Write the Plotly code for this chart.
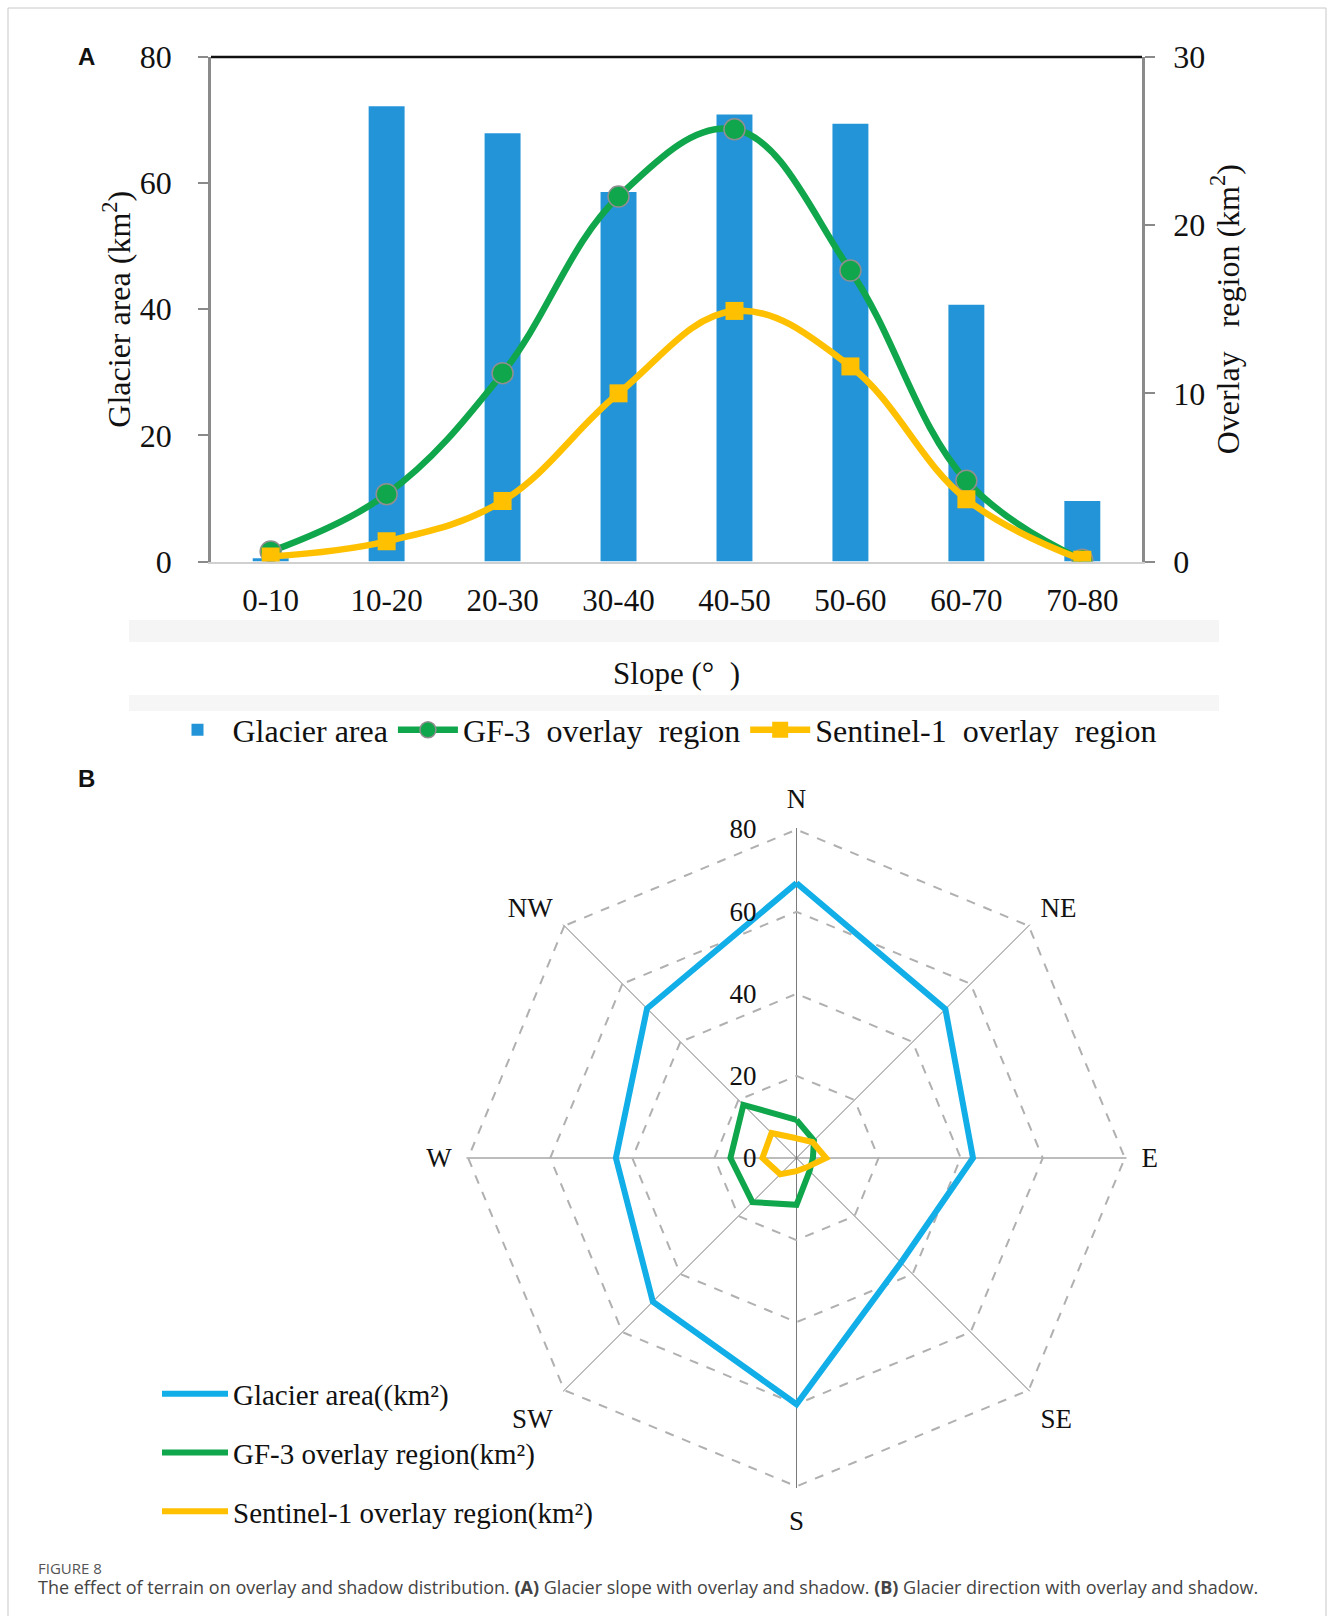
import plotly.graph_objects as go

# ---------------- data ----------------
slope_bins = ["0-10", "10-20", "20-30", "30-40", "40-50", "50-60", "60-70", "70-80"]
glacier_area_slope = [0.5, 72.2, 67.9, 58.6, 70.9, 69.4, 40.7, 9.6]
gf3_slope = [0.6, 4.0, 11.2, 21.7, 25.7, 17.3, 4.8, 0.1]
s1_slope = [0.3, 1.2, 3.6, 10.0, 14.9, 11.6, 3.7, 0.1]

directions = ["N", "NE", "E", "SE", "S", "SW", "W", "NW"]
glacier_area_dir = [67.0, 51.3, 43.0, 36.0, 60.0, 49.5, 44.0, 51.5]
gf3_dir = [9.3, 6.0, 4.0, 4.5, 11.4, 15.2, 16.1, 18.3]
s1_dir = [4.8, 5.5, 7.2, 3.3, 3.2, 5.6, 8.3, 8.6]

W, H = 1328, 1616
SERIF = "Liberation Serif, Times New Roman, serif"
BLUE_BAR = "#2494D8"
GREEN = "#10A64B"
YELLOW = "#FFC000"
RADAR_BLUE = "#12AEE8"


def px_x(v):
    return v / W


def px_y(v):
    return 1 - v / H


fig = go.Figure()

# ---------------- panel A ----------------
fig.add_trace(go.Bar(
    x=slope_bins, y=glacier_area_slope, name="Glacier area",
    marker=dict(color=BLUE_BAR, line=dict(width=0)), width=0.31,
    xaxis="x", yaxis="y", legend="legend"))
fig.add_trace(go.Scatter(
    x=slope_bins, y=gf3_slope, name="GF-3\u00a0\u00a0overlay\u00a0\u00a0region",
    mode="lines+markers", line=dict(color=GREEN, width=6.5, shape="spline", smoothing=1.1),
    marker=dict(symbol="circle", size=21, color=GREEN, line=dict(color="#8f8f8f", width=1.5)),
    xaxis="x", yaxis="y2", legend="legend"))
fig.add_trace(go.Scatter(
    x=slope_bins, y=s1_slope, name="Sentinel-1\u00a0\u00a0overlay\u00a0\u00a0region",
    mode="lines+markers", line=dict(color=YELLOW, width=6.5, shape="spline", smoothing=1.1),
    marker=dict(symbol="square", size=18, color=YELLOW, line=dict(color=YELLOW, width=0)),
    xaxis="x", yaxis="y2", legend="legend"))

# ---------------- panel B ----------------
theta_closed = directions + directions[:1]
for vals, name, color in [
    (glacier_area_dir, "Glacier area((km\u00b2)", RADAR_BLUE),
    (gf3_dir, "GF-3 overlay region(km\u00b2)", GREEN),
    (s1_dir, "Sentinel-1 overlay region(km\u00b2)", YELLOW),
]:
    fig.add_trace(go.Scatterpolar(
        r=vals + vals[:1], theta=theta_closed, name=name, mode="lines",
        line=dict(color=color, width=6), legend="legend2", legendgroup=name,
        subplot="polar"))

# geometry (pixels in the 1328x1616 page)
A_left, A_right, A_top, A_bottom = 211, 1142, 57, 561.5
cx, cy, R = 796.5, 1158, 330

fig.update_layout(
    width=W, height=H, autosize=False,
    margin=dict(l=0, r=0, t=0, b=0),
    paper_bgcolor="white", plot_bgcolor="white",
    font=dict(family=SERIF, color="#111111", size=28),
    showlegend=True,
    xaxis=dict(
        domain=[px_x(A_left), px_x(A_right)], anchor="y",
        type="category", categoryorder="array", categoryarray=slope_bins,
        showline=True, linecolor="#d0d0d0", linewidth=2, mirror=False,
        showgrid=False, ticks="", ticklabelstandoff=10,
        tickfont=dict(family=SERIF, size=31, color="#111"),
        title=dict(text="Slope (°\u00a0\u00a0)", font=dict(family=SERIF, size=31, color="#111"), standoff=46),
        automargin=False, fixedrange=True),
    yaxis=dict(
        domain=[px_y(A_bottom), px_y(A_top)], anchor="x",
        range=[0, 80], tickvals=[0, 20, 40, 60, 80],
        showline=True, linecolor="#8a8a8a", linewidth=2.5,
        ticks="outside", ticklen=10, tickcolor="#8a8a8a", tickwidth=2,
        ticklabelstandoff=20, showgrid=False, zeroline=False,
        tickfont=dict(family=SERIF, size=32, color="#111"),
        title=dict(text="Glacier area (km<sup>2</sup>)", font=dict(family=SERIF, size=32, color="#111"), standoff=0),
        automargin=False),
    yaxis2=dict(
        overlaying="y", side="right", anchor="x",
        range=[0, 30], tickvals=[0, 10, 20, 30],
        showline=True, linecolor="#8a8a8a", linewidth=2.5,
        ticks="outside", ticklen=10, tickcolor="#8a8a8a", tickwidth=2,
        ticklabelstandoff=12, showgrid=False, zeroline=False,
        tickfont=dict(family=SERIF, size=32, color="#111"),
        title=dict(text="Overlay\u00a0\u00a0\u00a0region (km<sup>2</sup>)", font=dict(family=SERIF, size=32, color="#111"), standoff=12),
        automargin=False),
    legend=dict(
        orientation="h", x=px_x(662), xanchor="center", y=px_y(730), yanchor="middle",
        font=dict(family=SERIF, size=32, color="#111"), bgcolor="rgba(0,0,0,0)",
        itemwidth=60, traceorder="normal"),
    legend2=dict(
        orientation="v", x=px_x(157), xanchor="left", y=px_y(1453), yanchor="middle",
        font=dict(family=SERIF, size=29, color="#111"), bgcolor="rgba(0,0,0,0)",
        itemwidth=66, traceorder="grouped", tracegroupgap=18),
    polar=dict(
        domain=dict(x=[px_x(cx - R), px_x(cx + R)], y=[px_y(cy + R), px_y(cy - R)]),
        bgcolor="white", gridshape="linear", hole=0,
        angularaxis=dict(
            type="category", categoryorder="array", categoryarray=directions,
            direction="clockwise", rotation=90,
            showline=False, showgrid=True, gridcolor="#7a7a7a", gridwidth=1.2,
            ticks="outside", ticklen=9, tickcolor="rgba(0,0,0,0)",
            tickfont=dict(family=SERIF, size=27, color="#111")),
        radialaxis=dict(
            range=[0, 80.4], tickvals=[0, 20, 40, 60, 80], angle=90, tickangle=90,
            side="counterclockwise", showline=False, showgrid=True,
            gridcolor="#b0b0b0", gridwidth=1.7, griddash="dash",
            ticks="outside", ticklen=30, tickcolor="rgba(0,0,0,0)",
            tickfont=dict(family=SERIF, size=27, color="#111")),
    ),
)

shapes = [
    # faint page frame
    dict(type="rect", xref="paper", yref="paper", x0=px_x(8), x1=px_x(1326), y0=px_y(1640), y1=px_y(8),
         line=dict(color="#c8c8c8", width=1), fillcolor="rgba(0,0,0,0)", layer="below"),
    # faint scan bands in panel A
    dict(type="rect", xref="paper", yref="paper", x0=px_x(129), x1=px_x(1219), y0=px_y(642), y1=px_y(620),
         line=dict(width=0), fillcolor="#f5f5f5", layer="below"),
    dict(type="rect", xref="paper", yref="paper", x0=px_x(129), x1=px_x(1219), y0=px_y(711), y1=px_y(695),
         line=dict(width=0), fillcolor="#f6f6f6", layer="below"),
    # black top border of panel A
    dict(type="line", xref="x domain", yref="y domain", x0=0, x1=1, y0=1, y1=1,
         line=dict(color="#111111", width=2.5)),
]
fig.update_layout(shapes=shapes)

annotations = [
    dict(text="<b>A</b>", x=px_x(86), y=px_y(57), xref="paper", yref="paper", showarrow=False,
         font=dict(family="Liberation Sans", size=24, color="#111"), xanchor="center", yanchor="middle"),
    dict(text="<b>B</b>", x=px_x(86), y=px_y(778), xref="paper", yref="paper", showarrow=False,
         font=dict(family="Liberation Sans", size=24, color="#111"), xanchor="center", yanchor="middle"),
    dict(text="FIGURE 8", x=px_x(36), y=px_y(1568), xref="paper", yref="paper", showarrow=False,
         font=dict(family="Open Sans", size=15, color="#555"), xanchor="left", yanchor="middle"),
    dict(text="The effect of terrain on overlay and shadow distribution. <b>(A)</b> Glacier slope with overlay and shadow. "
              "<b>(B)</b> Glacier direction with overlay and shadow.",
         x=px_x(36), y=px_y(1587), xref="paper", yref="paper", showarrow=False,
         font=dict(family="Open Sans", size=18, color="#444"), xanchor="left", yanchor="middle"),
]
fig.update_layout(annotations=annotations)

fig.write_html("out.html")
